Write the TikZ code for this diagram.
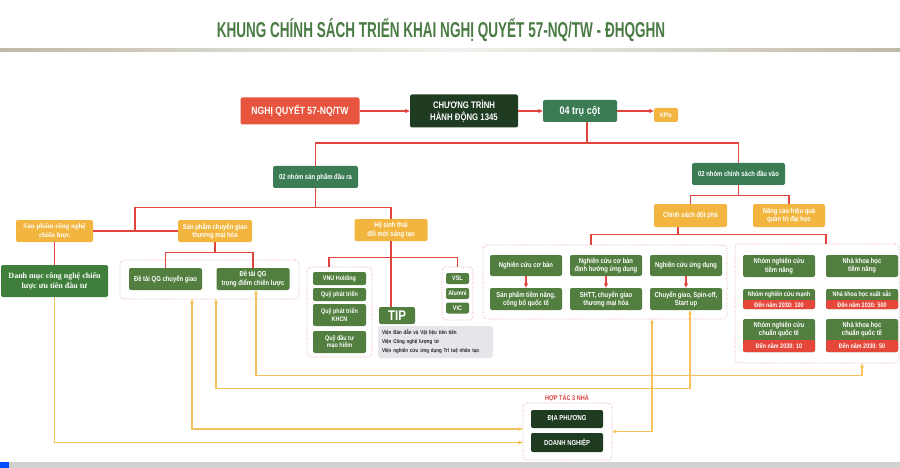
\documentclass[tikz,border=0pt]{standalone}
\usepackage{fontspec}
\setmainfont{Liberation Sans}
\newfontfamily\cf{Liberation Sans}[FakeStretch=0.82]
\newfontfamily\tf{Liberation Sans}[FakeStretch=0.63]
\newfontfamily\srf{Liberation Serif}
\usetikzlibrary{arrows.meta}
\definecolor{cRed}{HTML}{E8553F}
\definecolor{cRed2}{HTML}{E5483A}
\definecolor{cLine}{HTML}{E0463E}
\definecolor{cDark}{HTML}{1F3B22}
\definecolor{cTeal}{HTML}{3B7C55}
\definecolor{cOlive}{HTML}{527E40}
\definecolor{cGreen}{HTML}{3F7F3B}
\definecolor{cYel}{HTML}{F2B640}
\definecolor{cYLine}{HTML}{F5C15A}
\definecolor{cDash}{HTML}{E5A3AE}
\definecolor{cGray}{HTML}{E6E6EA}
\definecolor{cTitle}{HTML}{4B7B45}
\definecolor{cRule}{HTML}{BEBAA8}
\definecolor{cHop}{HTML}{D9443A}
\tikzset{
  bx/.style={rectangle, rounded corners=2pt, inner sep=0.5pt, align=center, text=white, font=\cf\bfseries\fontsize{7.2}{8.2}\selectfont},
  sz/.style 2 args={minimum width=#1pt, minimum height=#2pt},
  gbox/.style={bx, fill=cOlive},
  tbox/.style={bx, fill=cTeal},
  ybox/.style={bx, fill=cYel},
  sm/.style={font=\cf\bfseries\fontsize{6.6}{7.5}\selectfont},
  dbox/.style={rectangle, draw=cDash, dash pattern=on 1pt off 1.5pt, line width=0.7pt, rounded corners=4pt, inner sep=0pt},
  rl/.style={draw=cLine, line width=1.1pt},
  ra/.style={rl, -{Triangle[length=4.5pt,width=4pt]}},
  yl/.style={draw=cYLine, line width=1.1pt},
  yt/.style={-{Triangle[length=4pt,width=3.5pt]}},
  yb/.style={{Triangle[length=4pt,width=3.5pt]}-{Triangle[length=4pt,width=3.5pt]}},
}
\begin{document}
\begin{tikzpicture}[x=1pt,y=-1pt]
\useasboundingbox (0,0) rectangle (900,468);
\fill[white] (0,0) rectangle (900,468);
% title
\node[font=\tf\bfseries\fontsize{21.5}{24}\selectfont, text=cTitle] (title) at (441,30) {KHUNG CHÍNH SÁCH TRIỂN KHAI NGHỊ QUYẾT 57-NQ/TW - ĐHQGHN};
\shade[left color=cRule, right color=cRule!20] (0,49) rectangle (456,52);
\shade[left color=cRule!20, right color=cRule] (456,49) rectangle (900,52);
% bottom band
\fill[black!18] (0,462) rectangle (900,468);
\fill[blue!70!cyan] (0,462) rectangle (9,468);

% top row
\node[bx, fill=cRed, sz={119}{27}, font=\cf\bfseries\fontsize{10.5}{12}\selectfont] (nq) at (300,111) {NGHỊ QUYẾT 57-NQ/TW};
\node[bx, fill=cDark, sz={108}{33}, font=\cf\bfseries\fontsize{9.5}{11.5}\selectfont] (ct) at (464,111) {CHƯƠNG TRÌNH\\HÀNH ĐỘNG 1345};
\node[tbox, sz={74}{22}, font=\cf\bfseries\fontsize{11}{12}\selectfont] (tc) at (580,111) {04 trụ cột};
\node[ybox, sz={24}{14}, font=\cf\bfseries\fontsize{6.5}{7}\selectfont] (kpi) at (666,115) {KPIs};
\draw[ra] (nq.east) -- (nq.east -| ct.west);
\draw[ra] (ct.east) -- (ct.east -| tc.west);
\draw[ra] (tc.east) -- (tc.east -| kpi.west);

% level 2
\node[tbox, sz={85}{22}] (g1) at (315.5,177) {02 nhóm sản phẩm đầu ra};
\node[tbox, sz={93}{22}] (g2) at (738.5,174) {02 nhóm chính sách đầu vào};
\coordinate (j1) at (587,143);
\draw[rl] ([xshift=7pt]tc.south) -- (j1);
\draw[rl] (j1) -| (g1.north);
\draw[rl] (j1) -| (g2.north);

% level 3 left
\node[ybox, sz={77}{22}, font=\srf\bfseries\fontsize{7}{8.5}\selectfont] (spcn) at (54.5,231) {Sản phẩm công nghệ\\chiến lược};
\node[ybox, sz={74}{22}] (spcg) at (215,231) {Sản phẩm chuyển giao\\thương mại hóa};
\node[ybox, sz={73}{22}] (hst) at (391,230) {Hệ sinh thái\\đổi mới sáng tạo};
\draw[rl] (g1.south) -- ++(0,19) coordinate (j2);
\coordinate (j3) at (135,231);
\draw[rl] (spcn.east) -- (spcg.west);
\draw[rl] (j3) |- (j2) -| (hst.north);

\node[bx, fill=cGreen, sz={107}{32}, font=\srf\bfseries\fontsize{8}{10}\selectfont] (dm) at (54.5,281) {Danh mục công nghệ chiến\\lược ưu tiên đầu tư};
\draw[rl] (spcn.south) -- (dm.north);

\node[dbox, sz={179}{39}] (db1) at (209.5,279.5) {};
\node[gbox, sz={73}{22}] (dt1) at (165.5,279) {Đề tài QG chuyển giao};
\node[gbox, sz={73}{22}] (dt2) at (253,279) {Đề tài QG\\trọng điểm chiến lược};
\draw[rl] (spcg.south) -- ++(0,10) coordinate (j4);
\draw[rl] (j4) -| (dt1.north);
\draw[rl] (j4) -| (dt2.north);

% ecosystem
\node[dbox, sz={65}{90}] (db2) at (339.5,312) {};
\node[gbox, sm, sz={53}{13}] (f1) at (339.5,278.5) {VNU Holding};
\node[gbox, sm, sz={53}{13}] (f2) at (339.5,294.5) {Quỹ phát triển};
\node[gbox, sm, sz={53}{22}] (f3) at (339.5,315) {Quỹ phát triển\\KHCN};
\node[gbox, sm, sz={53}{22}] (f4) at (339.5,342) {Quỹ đầu tư\\mạo hiểm};
\node[dbox, sz={31}{53}] (db3) at (457.5,293.5) {};
\node[gbox, sm, sz={23}{11}] (v1) at (457.5,278.5) {VSL};
\node[gbox, sm, sz={23}{11}] (v2) at (457.5,293.5) {Alumni};
\node[gbox, sm, sz={23}{11}] (v3) at (457.5,308) {VIC};
\node[gbox, sz={36}{17}, font=\cf\bfseries\fontsize{14}{15}\selectfont] (tip) at (397,315.5) {TIP};
\node[rectangle, rounded corners=3pt, fill=cGray, sz={115}{32}, text width=107pt, align=left, inner sep=0pt, font=\cf\bfseries\fontsize{5.5}{9}\selectfont, text=black!85] (gb) at (435.5,342) {Viện Bán dẫn và Vật liệu tiên tiến\\Viện Công nghệ lượng tử\\Viện nghiên cứu ứng dụng Trí tuệ nhân tạo};
\draw[rl] (hst.south) -- ++(0,16) coordinate (j5);
\draw[rl] (j5) -| ([xshift=-10.5pt]db2.north);
\draw[rl] (j5) -| (db3.north);
\draw[rl] (j5) -- (j5 |- tip.north);

% right side
\node[ybox, sz={73}{23}] (csdp) at (690.5,215.5) {Chính sách đột phá};
\node[ybox, sz={72}{23}] (nc) at (789,215.5) {Nâng cao hiệu quả\\quản trị đại học};
\draw[rl] (g2.south) -- ++(0,10) coordinate (j6);
\draw[rl] (j6) -| (csdp.north);
\draw[rl] (j6) -| (nc.north);

\node[dbox, sz={244}{74}] (db4) at (605,282) {};
\node[gbox, sz={72}{21}] (r1) at (526,265.5) {Nghiên cứu cơ bản};
\node[gbox, sz={72}{21}] (r2) at (606,265.5) {Nghiên cứu cơ bản\\định hướng ứng dụng};
\node[gbox, sz={72}{21}] (r3) at (686,265.5) {Nghiên cứu ứng dụng};
\node[gbox, sz={72}{22}] (s1) at (526,299) {Sản phẩm tiềm năng,\\công bố quốc tế};
\node[gbox, sz={72}{22}] (s2) at (606,299) {SHTT, chuyển giao\\thương mại hóa};
\node[gbox, sz={72}{22}] (s3) at (686,299) {Chuyển giao, Spin-off,\\Start up};
\draw[ra] (r1.south) -- (s1.north);
\draw[ra] (r2.south) -- (s2.north);
\draw[ra] (r3.south) -- (s3.north);

\node[dbox, sz={164}{119}] (db5) at (817,303.5) {};
\draw[rl] ([xshift=-12.5pt]csdp.south) -- ++(0,7) coordinate (j7);
\draw[rl] (j7) -| ([xshift=-14pt]db4.north);
\draw[rl] (j7) -| ([xshift=9pt]db5.north);

\node[gbox, sz={72}{22}] (n1) at (779,266) {Nhóm nghiên cứu\\tiềm năng};
\node[gbox, sz={72}{22}] (k1) at (862,266) {Nhà khoa học\\tiềm năng};
\node[gbox, sz={72}{20}] (n2) at (779,299) {};
\node[bx, fill=cRed2, sz={72}{9}, sm] (n2r) at (779,304.5) {Đến năm 2030: 100};
\node[bx, sm] (n2t) at (779,294.5) {Nhóm nghiên cứu mạnh};
\node[gbox, sz={72}{20}] (k2) at (862,299) {};
\node[bx, fill=cRed2, sz={72}{9}, sm] (k2r) at (862,304.5) {Đến năm 2030: 500};
\node[bx, sm] (k2t) at (862,294.5) {Nhà khoa học xuất sắc};
\node[gbox, sz={72}{33}] (n3) at (779,335.5) {};
\node[bx, fill=cRed2, sz={72}{12}, sm] (n3r) at (779,346) {Đến năm 2030: 10};
\node[bx] (n3t) at (779,329.5) {Nhóm nghiên cứu\\chuẩn quốc tế};
\node[gbox, sz={72}{33}] (k3) at (862,335.5) {};
\node[bx, fill=cRed2, sz={72}{12}, sm] (k3r) at (862,346) {Đến năm 2030: 50};
\node[bx] (k3t) at (862,329.5) {Nhà khoa học\\chuẩn quốc tế};

% cooperation
\node[font=\cf\bfseries\fontsize{6.8}{7}\selectfont, text=cHop] (ht) at (567,398) {HỢP TÁC 3 NHÀ};
\node[dbox, sz={89}{57}] (db6) at (567.5,431.5) {};
\node[bx, fill=cDark, sz={72}{18}] (dp) at (567,419) {ĐỊA PHƯƠNG};
\node[bx, fill=cDark, sz={72}{19}] (dn) at (567,442.5) {DOANH NGHIỆP};

% yellow connectors
\draw[yl, yt] (dm.south) |- (db6.west |- dn.west);
\draw[yl, yb] ([xshift=-17.5pt]db1.south) |- ([yshift=2.5pt]db6.west);
\draw[yl, yb] ([xshift=6.5pt]db1.south) -- ++(0,89) -| ([xshift=4pt]s3.south);
\draw[yl, yb] ([xshift=3pt]dt2.south) -- ++(0,85) -| (db5.south -| k3r.south);
\draw[yl, yb] ([xshift=47pt]db4.south) |- (db6.east);
\end{tikzpicture}
\end{document}
